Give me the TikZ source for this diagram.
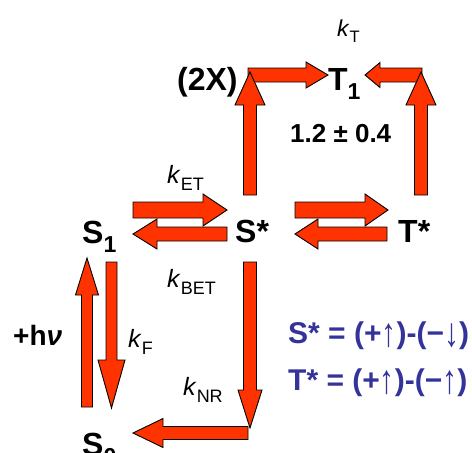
\documentclass[tikz,border=0pt]{standalone}
\usepackage{fontspec}
\setmainfont{Liberation Sans}
\usetikzlibrary{calc}
\definecolor{arrowred}{HTML}{FF3300}
\definecolor{noteblue}{HTML}{333399}
\newcommand\lowidx[1]{\raisebox{-0.3em}{\scalebox{0.72}{#1}}}
\newcommand\spinarr[1]{{\mdseries\raisebox{-0.12em}{\scalebox{1}[1.35]{#1}}}}
% block arrow: start, end, head length, head half width, shaft half width
\newcommand\fatarrow[5]{%
  \path ($(#2)!#3!(#1)$) coordinate (fa-h);
  \draw[fat arrow] ($(#1)!#5!90:(#2)$) -- ($(fa-h)!#5!-90:(#1)$) -- ($(fa-h)!#4!-90:(#1)$) -- (#2)
    -- ($(fa-h)!#4!90:(#1)$) -- ($(fa-h)!#5!90:(#1)$) -- ($(#1)!#5!-90:(#2)$) -- cycle;}
\tikzset{
  fat arrow/.style={fill=arrowred, draw=black, line width=0.9pt, line join=miter},
  species/.style={font=\bfseries\fontsize{32}{36}\selectfont, inner sep=0pt, anchor=base west},
  rate/.style={font=\fontsize{25}{30}\selectfont, inner sep=0pt, anchor=base west},
  note/.style={font=\bfseries\fontsize{30}{34}\selectfont, text=noteblue, inner sep=0pt, anchor=base west}
}
\begin{document}
\begin{tikzpicture}[x=1pt, y=-1pt]
    \useasboundingbox (0,0) rectangle (472,453);
    \clip (0,0) rectangle (472,453);
    % states and labels
    \node[species] (T1) at (328,90) {T\lowidx{1}};
    \node[species] (twoX) at (177,90) {(2X)};
    \node[species] (S1) at (82,243) {S\lowidx{1}};
    \node[species] (Sst) at (235,242) {S*};
    \node[species] (Tst) at (398,242) {T*};
    \node[species] (S0) at (82,455) {S\lowidx{0}};
    \node[rate, font=\fontsize{23}{27}\selectfont] (kT) at (337,36) {\textit{k}\lowidx{T}};
    \node[species, font=\bfseries\fontsize{26}{30}\selectfont] (gap) at (290,142) {1.2 ± 0.4};
    \node[rate] (kET) at (167,183) {\textit{k}\lowidx{ET}};
    \node[rate] (kBET) at (167,287) {\textit{k}\lowidx{BET}};
    \node[rate] (kF) at (128,347) {\textit{k}\lowidx{F}};
    \node[rate] (kNR) at (183,395) {\textit{k}\lowidx{NR}};
    \node[species, font=\bfseries\fontsize{28}{32}\selectfont] (hnu) at (13,345) {+h\textit{ν}};
    \node[note] (noteS) at (288,343) {S* = (+\spinarr{↑})-(−\spinarr{↓})};
    \node[note] (noteT) at (288,390) {T* = (+\spinarr{↑})-(−\spinarr{↑})};
    % arrow ends
    \coordinate (cTL) at (250,72);   \coordinate (cTLh) at (248,75);
    \coordinate (cTR) at (421,72);   \coordinate (cTRh) at (422,75);
    \coordinate (cBR) at (250,428);  \coordinate (cBRh) at (248,433);
    \coordinate (T1w) at (328,75);   \coordinate (T1e) at (365,75);
    \coordinate (Sstn) at (250,195); \coordinate (Ssts) at (250,262);
    \coordinate (Tstn) at (421,195);
    \coordinate (S1f) at (133,210);  \coordinate (Sstf) at (227,210);
    \coordinate (S1b) at (133,234);  \coordinate (Sstb) at (227,234);
    \coordinate (Sstf2) at (295,210); \coordinate (Tstf) at (388,210);
    \coordinate (Sstb2) at (295,234); \coordinate (Tstb) at (387,234);
    \coordinate (S0u) at (87,407);   \coordinate (S1u) at (87,258);
    \coordinate (S1d) at (111.5,262); \coordinate (S0d) at (111.5,408);
    \coordinate (S0e) at (133,433);
    % intersystem crossing to T1
    \fatarrow{cTLh}{T1w}{22pt}{13pt}{7pt}
    \fatarrow{Sstn}{cTL}{33pt}{15pt}{6.5pt}
    \fatarrow{cTRh}{T1e}{15pt}{12.5pt}{7pt}
    \fatarrow{Tstn}{cTR}{33pt}{15pt}{6.5pt}
    % transfer and back transfer
    \fatarrow{S1f}{Sstf}{24pt}{16pt}{8pt}
    \fatarrow{Sstb}{S1b}{24pt}{15pt}{7pt}
    \fatarrow{Sstf2}{Tstf}{23pt}{16pt}{8pt}
    \fatarrow{Tstb}{Sstb2}{23pt}{15pt}{7pt}
    % absorption and fluorescence
    \fatarrow{S0u}{S1u}{37pt}{11.5pt}{5.5pt}
    \fatarrow{S1d}{S0d}{48pt}{13.5pt}{5.5pt}
    % non-radiative decay
    \fatarrow{cBRh}{S0e}{30pt}{14.5pt}{6.5pt}
    \fatarrow{Ssts}{cBR}{38pt}{12pt}{6.5pt}
\end{tikzpicture}
\end{document}
